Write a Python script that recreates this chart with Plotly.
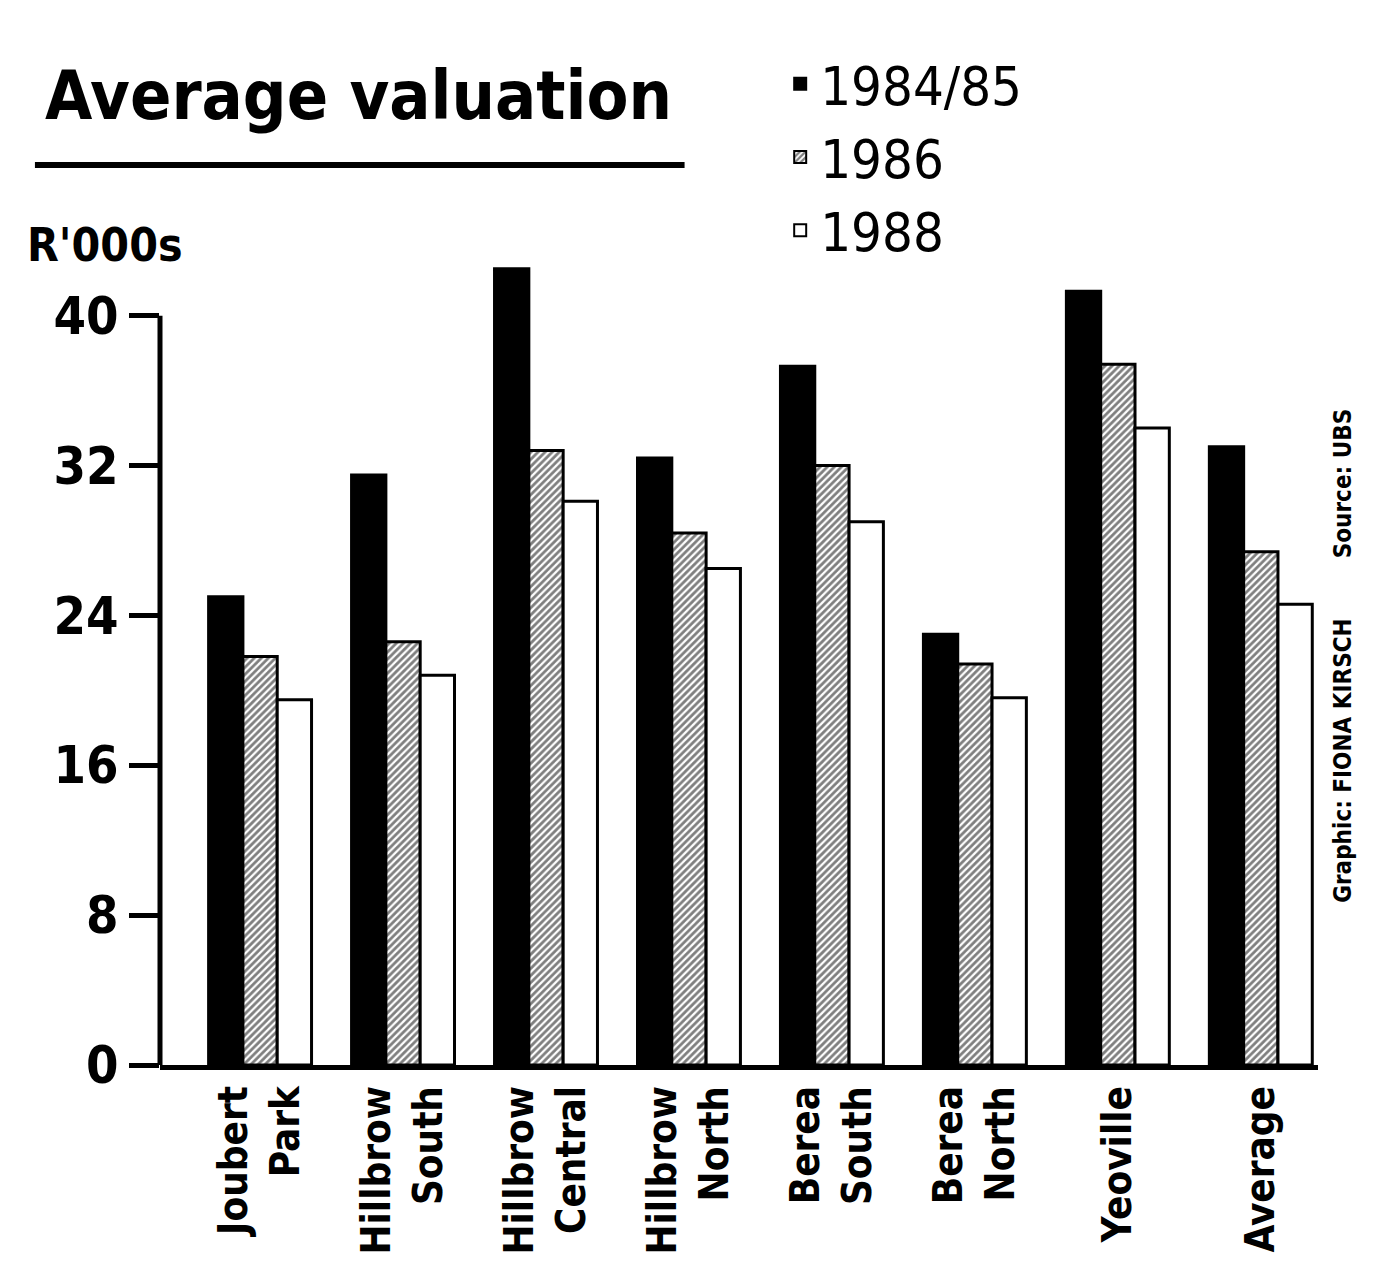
import plotly.graph_objects as go

categories = ["Joubert<br>Park", "Hillbrow<br>South", "Hillbrow<br>Central", "Hillbrow<br>North",
              "Berea<br>South", "Berea<br>North", "Yeoville", "Average"]
v_1984_85 = [25.0, 31.5, 42.5, 32.4, 37.3, 23.0, 41.3, 33.0]
v_1986 = [21.8, 22.6, 32.8, 28.4, 32.0, 21.4, 37.4, 27.4]
v_1988 = [19.5, 20.8, 30.1, 26.5, 29.0, 19.6, 34.0, 24.6]
series_names = ["1984/85", "1986", "1988"]
y_ticks = [0, 8, 16, 24, 32, 40]

FONT = "Liberation Sans Narrow, DejaVu Sans Condensed, Roboto Condensed, Arial Narrow, DejaVu Sans, sans-serif"

fig = go.Figure()
fig.add_trace(go.Bar(name=series_names[0], x=categories, y=v_1984_85,
                     marker=dict(color="black", line=dict(color="black", width=3))))
fig.add_trace(go.Bar(name=series_names[1], x=categories, y=v_1986,
                     marker=dict(color="white", line=dict(color="black", width=3),
                                 pattern=dict(shape="/", fgcolor="black", bgcolor="white",
                                              size=5, solidity=0.55))))
fig.add_trace(go.Bar(name=series_names[2], x=categories, y=v_1988,
                     marker=dict(color="white", line=dict(color="black", width=3))))

fig.update_layout(
    width=1374, height=1269,
    paper_bgcolor="white", plot_bgcolor="white",
    barmode="group", bargap=0.28, bargroupgap=0.0,
    margin=dict(l=152, r=64, t=214, b=212, autoexpand=False),
    font=dict(family=FONT, color="black"),
    showlegend=True,
    legend=dict(x=0.562, y=0.973, xref="container", yref="container", xanchor="left", yanchor="top",
                font=dict(size=54, family=FONT, color="black"),
                bgcolor="rgba(0,0,0,0)", itemsizing="constant", tracegroupgap=0,
                traceorder="normal"),
    xaxis=dict(range=[-0.7, 7.4], showline=True, linecolor="black", linewidth=5, ticks="",
               tickangle=-90, tickfont=dict(size=40, family=FONT, color="black", weight="bold"),
               showgrid=False, zeroline=False),
    yaxis=dict(range=[0, 45], tickvals=y_ticks, ticks="outside", ticklen=30, tickwidth=5,
               tickcolor="black", showline=False,
               showgrid=False, zeroline=False,
               tickfont=dict(size=52, family=FONT, color="black", weight="bold")),
    title=dict(text="<b>Average valuation</b>", x=0.027, xanchor="left", y=0.931, yanchor="middle",
               font=dict(size=68, family=FONT, color="black")),
)

# y axis line ends at the top tick (40) as in the original
fig.add_shape(type="line", xref="paper", yref="y", x0=0, x1=0, y0=0, y1=y_ticks[-1],
              line=dict(color="black", width=5))
fig.add_shape(type="line", xref="paper", yref="paper", x0=-0.108, x1=0.453, y0=1.0676, y1=1.0676,
              line=dict(color="black", width=6))
fig.add_annotation(text="<b>R'000s</b>", xref="paper", yref="paper", x=-0.1166, y=0.9727,
                   xanchor="left", yanchor="middle", showarrow=False,
                   font=dict(size=46, family=FONT, color="black"))
fig.add_annotation(text="<b>Graphic: FIONA KIRSCH        Source: UBS</b>", xref="paper", yref="paper",
                   x=1.022, y=0.486, xanchor="center", yanchor="middle", textangle=-90,
                   showarrow=False, font=dict(size=24, family=FONT, color="black"))

fig.write_html("out.html")
